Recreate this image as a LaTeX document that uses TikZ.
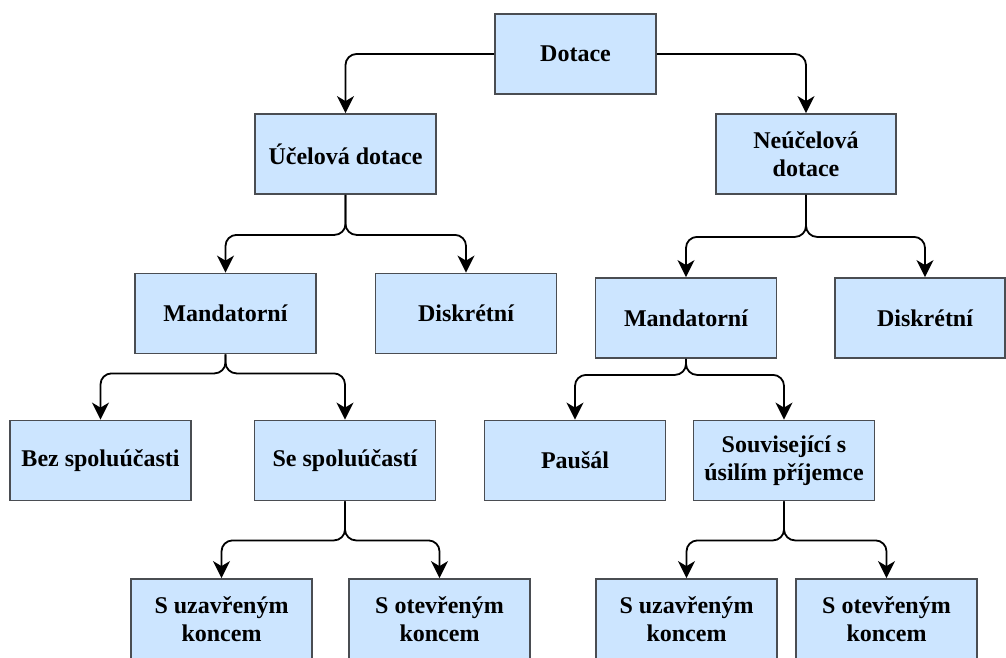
\documentclass[tikz,border=0pt]{standalone}
\usepackage{fontspec}
\setmainfont{Liberation Serif}
\usetikzlibrary{arrows.meta}
\definecolor{boxfill}{HTML}{CCE5FF}
\definecolor{boxline}{HTML}{4A4D52}
\tikzset{
  box/.style={draw=boxline, fill=boxfill, line width=1.8pt, minimum width=181pt,
    minimum height=80pt, inner sep=0pt, align=center, text=black,
    font=\bfseries\fontsize{24}{28}\selectfont},
  edge/.style={draw=black, line width=1.8pt, rounded corners=11pt,
    -{Stealth[length=17pt,width=17pt,inset=5pt]}}
}
\begin{document}
\begin{tikzpicture}[x=1pt,y=-1pt]
\useasboundingbox (0,0) rectangle (1006,657);
\clip (0,0) rectangle (1006,657);
\fill[white] (0,0) rectangle (1006,657);
% level 0
\node[box, minimum width=161pt] (dot) at (575.5,54) {Dotace};
% level 1
\node[box] (uc) at (345.5,154) {Účelová dotace};
\node[box, minimum width=180pt] (ne) at (806,154) {Neúčelová\\dotace};
% level 2
\node[box] (m1) at (225.5,313.5) {Mandatorní};
\node[box] (d1) at (466,313.5) {Diskrétní};
\node[box] (m2) at (686,318) {Mandatorní};
\node[box, minimum width=170pt] (d2) at (920,318) {\hspace*{10pt}Diskrétní};
% level 3
\node[box] (bez) at (100.5,460.5) {Bez spoluúčasti};
\node[box] (se) at (345,460.5) {Se spoluúčastí};
\node[box] (pau) at (575,460.5) {Paušál};
\node[box] (sou) at (784,460.5) {Související s\\úsilím příjemce};
% level 4
\node[box] (su1) at (221.5,619) {S uzavřeným\\koncem};
\node[box] (so1) at (439.5,619) {S otevřeným\\koncem};
\node[box] (su2) at (686.5,619) {S uzavřeným\\koncem};
\node[box] (so2) at (886.5,619) {S otevřeným\\koncem};
% connectors
\draw[edge] (dot.west) -| (uc.north);
\draw[edge] (dot.east) -| (ne.north);
\draw[edge] (uc.south) -- ++(0,40) -| (m1.north);
\draw[edge] (uc.south) -- ++(0,40) -| (d1.north);
\draw[edge] (ne.south) -- ++(0,42) -| (m2.north);
\draw[edge] (ne.south) -- ++(0,42) -| ([xshift=5pt]d2.north);
\draw[edge] (m1.south) -- ++(0,19) -| (bez.north);
\draw[edge] (m1.south) -- ++(0,19) -| (se.north);
\draw[edge] (m2.south) -- ++(0,16) -| (pau.north);
\draw[edge] (m2.south) -- ++(0,16) -| (sou.north);
\draw[edge] (se.south) -- ++(0,39) -| (su1.north);
\draw[edge] (se.south) -- ++(0,39) -| (so1.north);
\draw[edge] (sou.south) -- ++(0,39) -| (su2.north);
\draw[edge] (sou.south) -- ++(0,39) -| (so2.north);
\end{tikzpicture}
\end{document}
